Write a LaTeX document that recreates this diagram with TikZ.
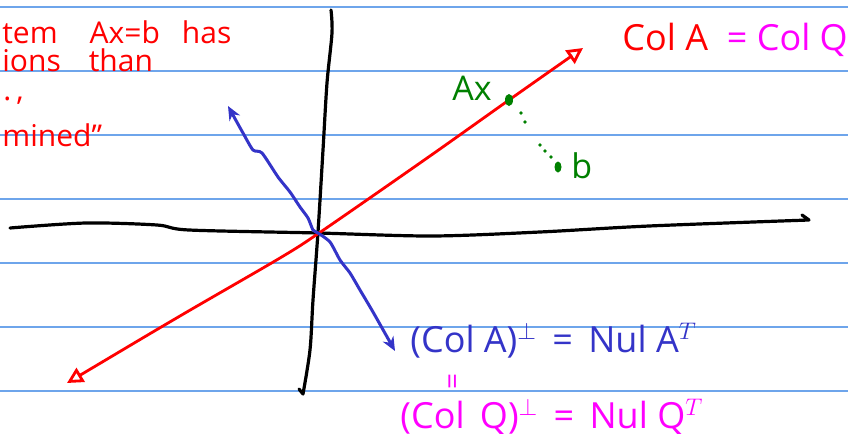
\documentclass[tikz,border=0pt]{standalone}
\usepackage{fontspec}
\setmainfont{Open Sans}
\usetikzlibrary{arrows.meta,positioning}
\definecolor{ruleblue}{RGB}{110,165,235}
\definecolor{inkred}{RGB}{255,0,0}
\definecolor{inkpink}{RGB}{255,0,255}
\definecolor{inkblue}{RGB}{52,52,200}
\definecolor{inkgreen}{RGB}{0,128,0}

\begin{document}
\begin{tikzpicture}[
  x=0.5pt,y=-0.5pt,
  noteline/.style={draw=ruleblue,line width=0.9pt},
  axisline/.style={draw=black,line width=1.6pt,line cap=round,line join=round},
  colline/.style={draw=inkred,line width=1.4pt,line cap=round,{Triangle[open,length=8pt,width=8pt,line width=1.4pt]}-{Triangle[open,length=8pt,width=8pt,line width=1.4pt]}},
  perpline/.style={draw=inkblue,line width=1.5pt,line cap=round,line join=round,{Stealth[length=7pt,width=6pt]}-{Stealth[length=7pt,width=6pt]}},
  redtext/.style={text=inkred,font=\fontsize{15}{18}\selectfont,inner sep=0pt,anchor=base west},
  pinktext/.style={text=inkpink,font=\fontsize{18}{21}\selectfont,inner sep=0pt,anchor=base west},
  bluetext/.style={text=inkblue,font=\fontsize{18}{21}\selectfont,inner sep=0pt,anchor=base west},
  greentext/.style={text=inkgreen,font=\fontsize{17}{20}\selectfont,inner sep=0pt,anchor=base west},
  dotg/.style={fill=inkgreen,draw=none}
]
\useasboundingbox (0,0) rectangle (848,434);
\clip (0,0) rectangle (848,434);
\fill[white] (0,0) rectangle (848,434);
\foreach \ly in {7,71,...,391}
  \draw[noteline] (0,\ly) -- (848,\ly);

\draw[axisline] plot[smooth,tension=0.5] coordinates {(10,228) (86,223) (157,225) (189,230) (318,233) (432,236) (540,232) (649,226) (809,220)} -- (802,215);
\draw[axisline] plot[smooth,tension=0.5] coordinates {(331,10) (332,33) (327,83) (323,150) (318,232) (313,300) (310,350) (303,394)} -- (299,389);

\draw[colline] plot[smooth,tension=0.5] coordinates {(67,383) (180,316) (280,258) (322,231) (430,156) (509,100) (583,48)};
\draw[perpline] plot[smooth,tension=0.4] coordinates {(228,106) (243,133) (253,150) (262,153) (278,177) (290,192) (300,207) (308,218) (313,230) (318,233) (330,242) (340,260) (350,273) (360,290) (373,312) (395,351)};

\coordinate (axpt) at (509,100);
\coordinate (bpt) at (558,167);
\fill[dotg] (axpt) ellipse (4 and 6);
\fill[dotg] (bpt) ellipse (3.5 and 5.5);
\foreach \dx/\dy in {521/113,525/122,540/145,545/151,551/157}
  \fill[dotg] (\dx,\dy) circle (1.8);
\node[greentext] (axlbl) at (452,100) {Ax};
\node[greentext] (blbl) at (571,178) {b};

\node[redtext] (ln1) at (2,43) {tem\hspace{16pt}Ax=b\hspace{11pt}has};
\node[redtext] (ln2) at (2,71) {ions\hspace{14pt}than};
\node[redtext] (ln3) at (3,100) {.\,,};
\node[redtext] (ln4) at (2,146) {mined''};

\node[redtext,font=\fontsize{18}{21}\selectfont] (colA) at (622,50) {Col A};
\node[pinktext,right=9pt of colA.base east,anchor=base west] (colQ) {= Col Q};

\node[bluetext] (perpA) at (410,352) {(Col A)$^{\perp}$ \,= \,Nul A$^{T}$};
\node[text=inkpink,font=\fontsize{14}{16}\selectfont,rotate=90,inner sep=0pt] (eqmark) at (456,381) {=};
\node[pinktext] (perpQ) at (400,428) {(Col \,Q)$^{\perp}$ \,= \,Nul Q$^{T}$};
\end{tikzpicture}
\end{document}
